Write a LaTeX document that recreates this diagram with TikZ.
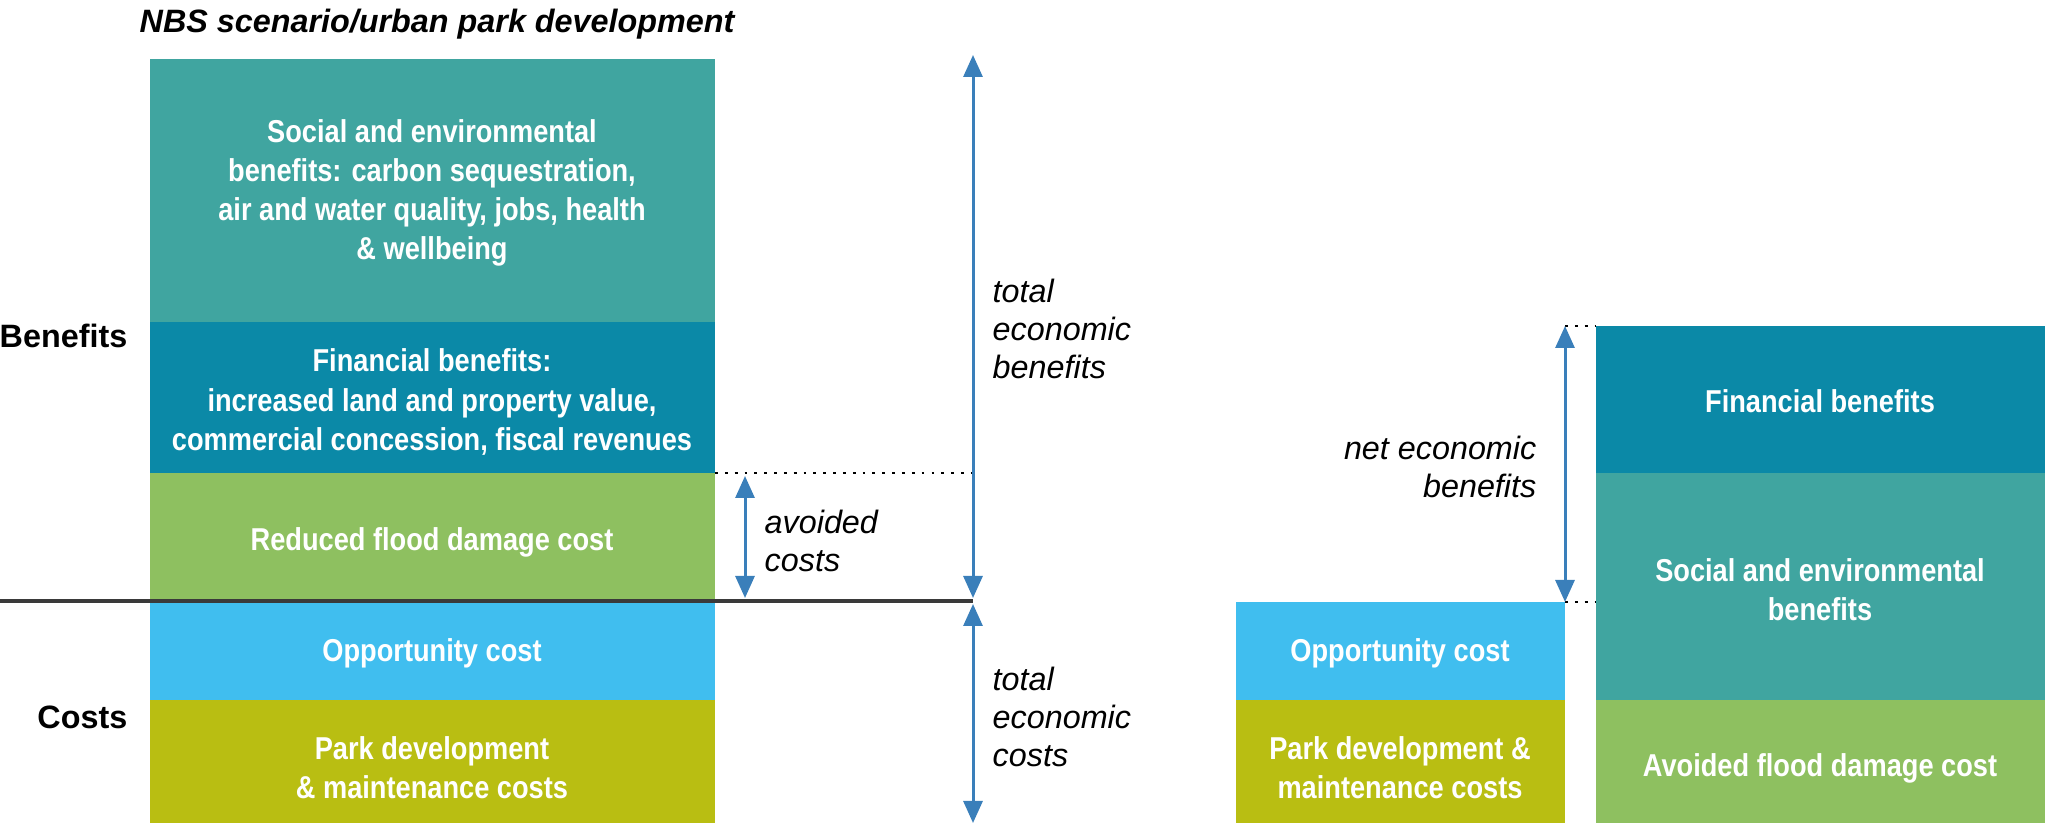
\documentclass[tikz,border=0pt]{standalone}
\usepackage{fontspec}
\setmainfont{Liberation Sans}
\newfontfamily\narrowfont{Liberation Sans}[FakeStretch=0.86]
\usetikzlibrary{arrows.meta}
\definecolor{socialc}{RGB}{64,165,160}
\definecolor{financec}{RGB}{11,137,167}
\definecolor{floodc}{RGB}{142,192,96}
\definecolor{oppc}{RGB}{64,190,239}
\definecolor{parkc}{RGB}{185,190,18}
\definecolor{arrowc}{RGB}{58,127,186}
\definecolor{basec}{RGB}{58,58,58}
\begin{document}
\begin{tikzpicture}[x=0.1mm,y=-0.1mm,
    boxtext/.style={text=white,align=center,inner sep=0pt,
        font=\narrowfont\bfseries\fontsize{9}{11.1}\selectfont},
    sidetext/.style={inner sep=0pt,font=\bfseries\fontsize{9.2}{11}\selectfont},
    measure/.style={inner sep=0pt,align=left,font=\itshape\fontsize{9.2}{10.7}\selectfont},
    span/.style={arrowc,line width=0.85pt,{Triangle[width=1.9mm,length=2.2mm]}-{Triangle[width=1.9mm,length=2.2mm]}},
    guide/.style={dotted,line width=0.8pt}]
    \useasboundingbox (0,0) rectangle (2045,823);

    \node[inner sep=0pt,anchor=west,font=\bfseries\itshape\fontsize{9.2}{11}\selectfont] (title) at (139,24) {NBS scenario/urban park development};
    \node[sidetext,anchor=east] (benefits) at (128,336) {Benefits};
    \node[sidetext,anchor=east] (costs) at (128,717) {Costs};

    \fill[socialc] (150,59) rectangle (715,322);
    \fill[financec] (150,322) rectangle (715,473);
    \fill[floodc] (150,473) rectangle (715,601);
    \fill[oppc] (150,601) rectangle (715,700);
    \fill[parkc] (150,700) rectangle (715,823);
    \node[boxtext] (social) at (432,193) {Social and environmental\\benefits: carbon sequestration,\\air and water quality, jobs, health\\\& wellbeing};
    \node[boxtext] (finance) at (432,402) {Financial benefits:\\increased land and property value,\\commercial concession, fiscal revenues};
    \node[boxtext] (flood) at (432,542) {Reduced flood damage cost};
    \node[boxtext] (opp) at (432,653) {Opportunity cost};
    \node[boxtext] (park) at (432,768) {Park development\\\& maintenance costs};

    \coordinate (base) at (0,601);
    \coordinate (baseend) at (973,601);
    \coordinate (tbtop) at (973,55);
    \coordinate (tbbot) at (973,598);
    \coordinate (tctop) at (973,604);
    \coordinate (tcbot) at (973,823);
    \coordinate (avtop) at (745,476);
    \coordinate (avbot) at (745,598);
    \coordinate (dotl) at (715,473);
    \coordinate (dotr) at (973,473);
    \draw[basec,line width=0.9pt] (base) -- (baseend);
    \draw[guide] (dotl) -- (dotr);
    \draw[span] (tbbot) -- (tbtop);
    \draw[span] (tctop) -- (tcbot);
    \draw[span] (avtop) -- (avbot);
    \node[measure,anchor=west] (totben) at (992,329) {total\\economic\\benefits};
    \node[measure,anchor=west] (avoid) at (764,541) {avoided\\costs};
    \node[measure,anchor=west] (totcost) at (992,717) {total\\economic\\costs};

    \fill[oppc] (1236,602) rectangle (1565,700);
    \fill[parkc] (1236,700) rectangle (1565,823);
    \fill[financec] (1596,326) rectangle (2045,473);
    \fill[socialc] (1596,473) rectangle (2045,700);
    \fill[floodc] (1596,700) rectangle (2045,823);
    \node[boxtext] (opp2) at (1400,653) {Opportunity cost};
    \node[boxtext] (park2) at (1400,768) {Park development \&\\maintenance costs};
    \node[boxtext] (finance2) at (1820,401) {Financial benefits};
    \node[boxtext] (social2) at (1820,590) {Social and environmental\\benefits};
    \node[boxtext] (flood2) at (1820,768) {Avoided flood damage cost};

    \coordinate (nettop) at (1565,326);
    \coordinate (netbot) at (1565,602);
    \coordinate (nettopr) at (1596,326);
    \coordinate (netbotr) at (1596,602);
    \draw[guide] (nettop) -- (nettopr);
    \draw[guide] (netbot) -- (netbotr);
    \draw[span] (nettop) -- (netbot);
    \node[measure,align=right,anchor=east] (net) at (1537,467) {net economic\\benefits};
\end{tikzpicture}
\end{document}
